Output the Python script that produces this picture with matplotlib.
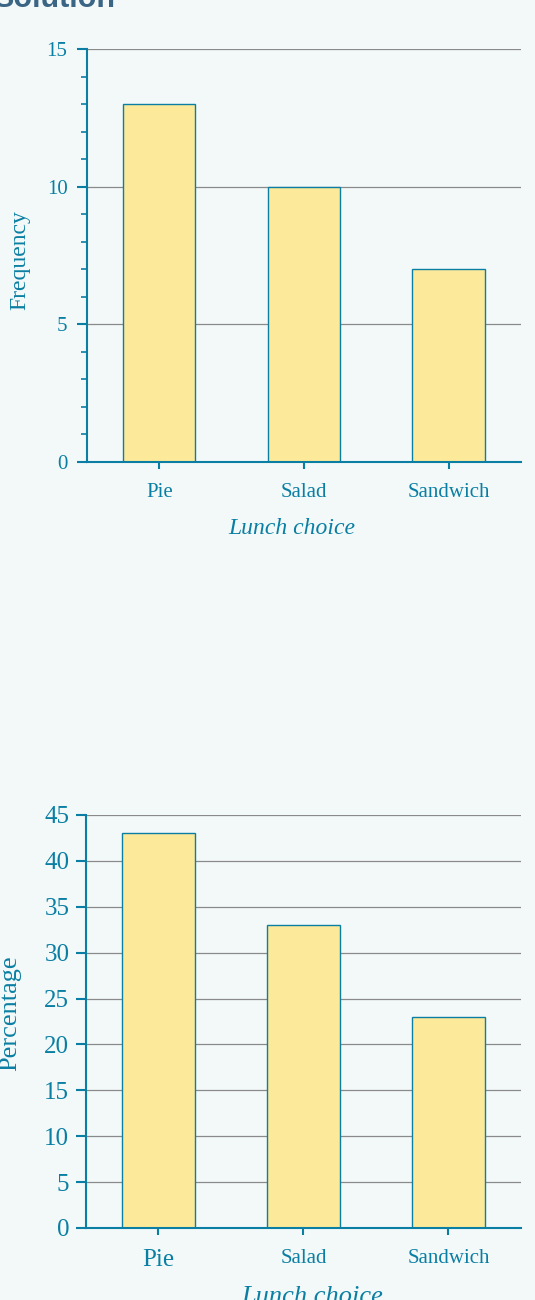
import numpy as np
import matplotlib
matplotlib.use('Agg')
import matplotlib.pyplot as plt
from matplotlib.ticker import MultipleLocator

choices = ['Pie', 'Salad', 'Sandwich']
frequency = [13, 10, 7]
percentage = [43, 33, 23]

teal = '#0b7fa3'
grid_gray = '#8a8a8a'
bar_fill = '#fde99a'
bg = '#f3f9f9'

plt.rcParams['font.family'] = ['Liberation Serif', 'DejaVu Serif']

fig = plt.figure(figsize=(5.35, 13), dpi=100, facecolor=bg)

fig.text(-0.012, 0.9946, 'Solution', family='Liberation Sans', fontweight='bold',
         fontsize=22, color='#3b6585', va='baseline', ha='left')


def style_axes(ax):
    ax.set_facecolor(bg)
    for s in ['top', 'right']:
        ax.spines[s].set_visible(False)
    for s in ['left', 'bottom']:
        ax.spines[s].set_color(teal)
        ax.spines[s].set_linewidth(1.5)
    ax.yaxis.grid(True, color=grid_gray, linewidth=0.9)
    ax.set_axisbelow(True)
    ax.tick_params(axis='both', colors=teal, labelcolor=teal)
    ax.tick_params(axis='y', which='major', length=7, width=1.5, direction='out')
    ax.tick_params(axis='x', length=5, width=1.5, direction='out')
    ax.set_xlim(-0.5, 2.5)


x = np.arange(len(choices))

# top: frequency
ax1 = fig.add_axes([0.1626, 0.6446, 0.8112, 0.3177])
style_axes(ax1)
ax1.bar(x, frequency, width=0.5, color=bar_fill, edgecolor=teal, linewidth=1.0, zorder=2)
ax1.set_ylim(0, 15)
ax1.yaxis.set_major_locator(MultipleLocator(5))
ax1.yaxis.set_minor_locator(MultipleLocator(1))
ax1.tick_params(axis='y', which='minor', length=4, width=1.2, colors=teal)
ax1.tick_params(axis='y', labelsize=15, pad=7)
ax1.tick_params(axis='x', labelsize=15, pad=10)
ax1.set_xticks(x)
ax1.set_xticklabels(choices)
ax1.set_ylabel('Frequency', fontsize=17, color=teal)
ax1.yaxis.set_label_coords(-0.13, 0.49)
ax1.set_xlabel('Lunch choice', fontsize=17, color=teal, style='italic')
ax1.xaxis.set_label_coords(0.473, -0.135)

# bottom: percentage
ax2 = fig.add_axes([0.1607, 0.0554, 0.8131, 0.3177])
style_axes(ax2)
ax2.bar(x, percentage, width=0.5, color=bar_fill, edgecolor=teal, linewidth=1.0, zorder=2)
ax2.set_ylim(0, 45)
ax2.yaxis.set_major_locator(MultipleLocator(5))
ax2.tick_params(axis='y', labelsize=18, pad=5)
ax2.tick_params(axis='x', labelsize=15, pad=10)
ax2.set_xticks(x)
ax2.set_xticklabels(choices)
ax2.get_xticklabels()[0].set_fontsize(18)
ax2.set_ylabel('Percentage', fontsize=19, color=teal)
ax2.yaxis.set_label_coords(-0.15, 0.52)
ax2.set_xlabel('Lunch choice', fontsize=19, color=teal, style='italic')
ax2.xaxis.set_label_coords(0.52, -0.14)

fig.savefig('out.png', dpi=100, facecolor=bg)
